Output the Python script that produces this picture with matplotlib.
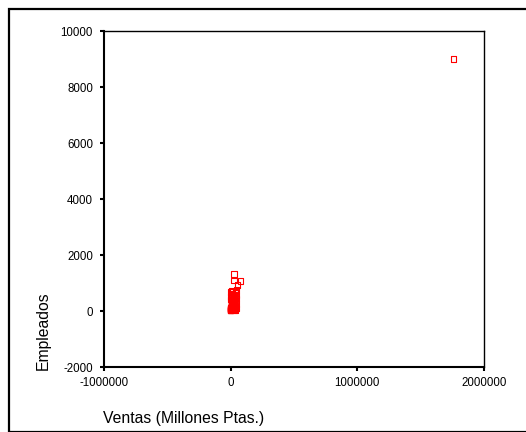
import matplotlib
matplotlib.use("Agg")
import matplotlib.pyplot as plt
from matplotlib.patches import Rectangle

plt.rcParams['font.family'] = ['Liberation Sans', 'DejaVu Sans']

ventas = [1760000, 27000, 26000, 79000, 55000,
          45000, 40000, 35000, 30000, 28000, 25000, 22000, 20000, 18000,
          16000, 15000, 14000, 12000, 11000, 10000, 9000, 8000, 7500, 7000,
          6500, 6000, 5500, 5000, 4500, 4000, 3500, 3000, 2500, 2000, 1500,
          1000, 800, 600, 400, 200, 32000, 24000, 19000, 13000, 9500, 6200,
          4200, 2800, 1800, 900, 500, 300, 21000, 17000, 11500, 8500, 5200,
          3200, 1200, 700,
          42000, 38000, 33000, 29000, 36000, 44000, 40000, 31000, 26000,
          23000, 5000, 3000, 8000, 12000, 2000, 15000, 34000, 39000,
          27000, 18000, 1000, 6000, 10000, 25000, 47000, 43000]
empleados = [9000, 1320, 1100, 1070, 930,
             750, 700, 650, 600, 560, 520, 480, 450, 420,
             400, 380, 350, 320, 300, 280, 260, 240, 220, 200,
             190, 180, 160, 150, 130, 120, 100, 90, 80, 70, 60,
             50, 40, 30, 20, 10, 500, 420, 380, 300, 250, 200,
             150, 110, 80, 60, 30, 15, 350, 300, 260, 210, 170,
             130, 90, 50,
             100, 60, 40, 120, 200, 250, 400, 300, 180,
             90, 600, 680, 550, 620, 500, 700, 150, 30,
             20, 80, 420, 720, 480, 330, 450, 550]

fig = plt.figure(figsize=(5.26, 4.32), dpi=100)
fig.patches.append(Rectangle((9/526, 0), 1.5, (432-9)/432, transform=fig.transFigure,
                             fill=False, edgecolor='black', linewidth=1.6))

ax = fig.add_axes([104/526, 1-367/432, 380/526, 336/432])
ax.scatter(ventas, empleados, marker='s', s=14, facecolors='none',
           edgecolors='#ff0000', linewidths=0.8)
ax.set_xlim(-1000000, 2000000)
ax.set_ylim(-2000, 10000)
ax.set_xticks([-1000000, 0, 1000000, 2000000])
ax.set_xticklabels(['-1000000', '0', '1000000', '2000000'])
ax.set_yticks([-2000, 0, 2000, 4000, 6000, 8000, 10000])
ax.set_yticklabels(['-2000', '0', '2000', '4000', '6000', '8000', '10000'])
ax.tick_params(direction='out', length=3, width=1.5, labelsize=8.3)
ax.tick_params(axis='x', pad=4)
ax.tick_params(axis='y', pad=5)
for s in ['left', 'bottom']:
    ax.spines[s].set_linewidth(1.5)
for s in ['top', 'right']:
    ax.spines[s].set_linewidth(1.0)

fig.text(103/526, 1-419/432, 'Ventas (Millones Ptas.)', fontsize=11.3,
         ha='left', va='center')
fig.text(43/526, 1-370/432, 'Empleados', fontsize=11.3, rotation=90,
         ha='center', va='bottom')

fig.savefig('out.png', dpi=100)
